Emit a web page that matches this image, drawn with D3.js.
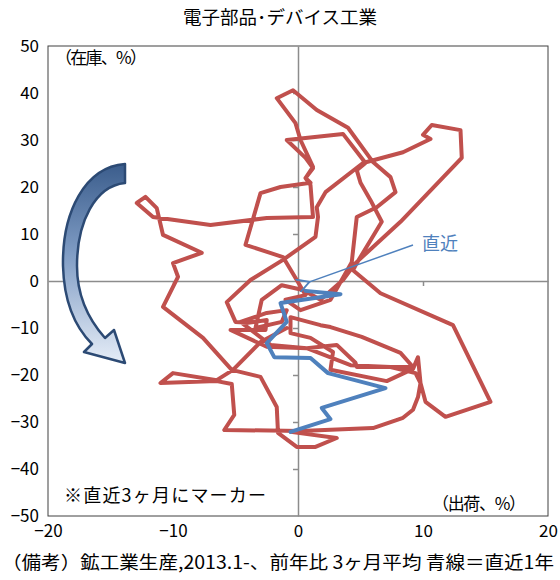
<!DOCTYPE html>
<html>
<head>
<meta charset="utf-8">
<script src="https://cdn.jsdelivr.net/npm/d3@7"></script>
<style>
  body { margin: 0; background: #fff; }
  text { font-family: "Noto Sans CJK JP", "Noto Sans", sans-serif; }
</style>
</head>
<body>
<div id="chart"></div>
<script>
// shipments (x) and inventory (y), YoY %, 3-month average, 2013.1 onward
const shipRed = [-0.9,-3.0,-5.2,-6.5,-10.0,-11.0,-6.5,-5.3,-5.1,-5.9,
  0.2,6.0,8.4,9.2,9.6,9.8,9.6,9.2,7.1,2.6,
  2.8,1.0,-0.6,-0.6,1.8,2.6,5.1,8.2,9.2,4.7,
  4.6,3.1,0.7,-2.2,-4.6,-2.5,-0.9,-1.3,-3.4,-2.9,
  -1.3,0.4,1.8,3.6,4.6,8.2,13.1,13.0,10.7,10.0,
  10.6,8.4,5.2,2.2,1.5,1.6,1.4,-1.2,-3.8,-5.7,
  -5.0,-4.0,-2.5,-2.6,-5.4,-2.5,0.7,4.2,7.4,9.4,
  9.8,10.2,11.8,15.4,12.4,6.6,4.4,4.7,6.7,5.8,
  5.0,4.7,5.4,3.6,-0.9,0.6,1.2,0.6,1.0,-1.4,
  -3.0,-4.2,-1.2,-0.1,0.6,-1.0,0.2,2.6,4.3,4.7,
  6.3,7.8,7.4,6.0,4.0,1.5,-0.4,-1.7,-0.2,0.2,
  1.2,0.6,1.0,1.2,-2.5,-7.0,-11.6,-12.9,-12.2,-11.3,
  -10.8,-7.7,-10.0,-9.6,-10.8,-7.6,-5.3,-3.0,-1.7,-1.6,
  -0.1,1.4,3.1,-0.6];
const invRed = [-10.0,-13.0,-18.9,-21.1,-19.6,-21.7,-21.3,-21.9,-28.5,-31.7,
  -31.9,-31.3,-29.1,-27.4,-24.7,-21.7,-16.2,-18.7,-21.3,-18.9,
  -15.1,-12.1,-11.1,-7.7,-9.4,-9.8,-11.9,-15.3,-18.3,-18.3,
  -17.4,-13.6,-14.3,-13.6,-8.7,-6.8,-6.2,-8.7,-10.0,-4.0,
  -0.9,-1.9,-4.0,0.2,3.8,12.6,26.2,32.1,33.2,31.1,
  30.2,27.4,25.1,18.9,15.7,13.6,9.4,4.5,0.2,-4.5,
  -8.7,-8.9,-8.3,-10.4,-10.4,-14.0,-14.3,-17.9,-18.3,-19.6,
  -21.7,-25.7,-28.9,-25.7,-9.4,-2.6,2.3,3.8,12.6,17.2,
  20.9,23.6,25.1,31.3,30.0,26.2,24.0,21.9,20.9,20.0,
  18.7,7.7,5.1,0.2,-3.0,-4.0,-6.2,-4.0,4.0,13.6,
  15.7,18.9,22.1,25.3,32.6,36.4,40.6,38.9,33.6,30.0,
  24.3,21.9,20.4,13.6,13.4,11.9,13.6,16.6,17.9,15.5,
  9.8,6.0,3.8,0.9,-5.5,-12.1,-18.9,-20.4,-26.8,-32.3,
  -35.3,-35.3,-33.4,-32.1];

// latest year (blue)
const shipBlue = [-0.6,2.6,1.9,7.0,2.4,1.0,-1.9,-2.5,-0.9,-1.4,3.4,0.6];
const invBlue  = [-32.1,-29.4,-27.0,-22.8,-19.6,-16.4,-16.2,-13.2,-8.7,-4.7,-2.8,-2.1];

const xTicks = [-20, -10, 0, 10, 20];
const yTicks = [50, 40, 30, 20, 10, 0, -10, -20, -30, -40, -50];

const W = 560, H = 580;
const plot = {left: 48, right: 548, top: 46, bottom: 516};

const svg = d3.select("#chart").append("svg")
    .attr("width", W).attr("height", H);

const x = d3.scaleLinear().domain([-20, 20]).range([plot.left, plot.right]);
const y = d3.scaleLinear().domain([-50, 50]).range([plot.bottom, plot.top]);

// title
svg.append("text")
    .attr("x", 183).attr("y", 24)
    .attr("font-size", 18)
    .attr("textLength", 194).attr("lengthAdjust", "spacingAndGlyphs")
    .text("電子部品･デバイス工業");

// plot frame
svg.append("rect")
    .attr("x", plot.left).attr("y", plot.top)
    .attr("width", plot.right - plot.left).attr("height", plot.bottom - plot.top)
    .attr("fill", "none").attr("stroke", "#404040").attr("stroke-width", 1);

// outer tick labels
const gy = svg.append("g")
    .attr("transform", "translate(" + plot.left + ",0)")
    .call(d3.axisLeft(y).tickValues(yTicks).tickSize(0).tickPadding(9));
gy.select(".domain").remove();
const gx = svg.append("g")
    .attr("transform", "translate(0," + plot.bottom + ")")
    .call(d3.axisBottom(x).tickValues(xTicks).tickSize(0).tickPadding(9));
gx.select(".domain").remove();
svg.selectAll(".tick text")
    .attr("font-size", 17).attr("fill", "#000")
    .style("font-family", "'Noto Sans CJK JP', sans-serif");

// zero axes through the middle
const zy = svg.append("g")
    .attr("transform", "translate(" + x(0) + ",0)")
    .call(d3.axisLeft(y).tickValues(yTicks.filter(d => d > -50 && d < 50 && d !== 0))
        .tickSizeInner(5).tickSizeOuter(0).tickFormat(""));
const zx = svg.append("g")
    .attr("transform", "translate(0," + y(0) + ")")
    .call(d3.axisBottom(x).tickValues([-10, 10])
        .tickSizeInner(5).tickSizeOuter(0).tickFormat(""));
[zy, zx].forEach(function(g) {
    g.selectAll("path, line").attr("stroke", "#8c8c8c").attr("stroke-width", 1.5);
});

// inner labels
svg.append("text").attr("x", 55).attr("y", 64).attr("font-size", 17)
    .attr("textLength", 92).text("（在庫、%）");
svg.append("text").attr("x", 432).attr("y", 510).attr("font-size", 17)
    .attr("textLength", 94).text("（出荷、%）");
svg.append("text").attr("x", 64).attr("y", 502).attr("font-size", 18)
    .attr("textLength", 202).text("※直近3ヶ月にマーカー");

// curved arrow (decoration)
const defs = svg.append("defs");
const grad = defs.append("linearGradient")
    .attr("id", "arrowFill").attr("x1", 0).attr("y1", 0).attr("x2", 0).attr("y2", 1);
grad.append("stop").attr("offset", "0%").attr("stop-color", "#3b5d8c");
grad.append("stop").attr("offset", "45%").attr("stop-color", "#7f9cc4");
grad.append("stop").attr("offset", "100%").attr("stop-color", "#e6edf7");
svg.append("path")
    .attr("d", "M125,164 C85,167 62,212 63,266 C64,302 76,328 92,344 L84,352 L125,363 L114,330 L105,338 C89,320 77,296 77,266 C77,222 95,186 125,183 Z")
    .attr("fill", "url(#arrowFill)")
    .attr("stroke", "#2c4a74").attr("stroke-width", 2.5)
    .attr("stroke-linejoin", "round");

// trajectories
const line = d3.line().x(d => x(d[0])).y(d => y(d[1]));
svg.append("path")
    .datum(d3.zip(shipRed, invRed))
    .attr("d", line)
    .attr("fill", "none").attr("stroke", "#c0504d")
    .attr("stroke-width", 4).attr("stroke-linejoin", "round").attr("stroke-linecap", "round");
svg.append("path")
    .datum(d3.zip(shipBlue, invBlue))
    .attr("d", line)
    .attr("fill", "none").attr("stroke", "#4f81bd")
    .attr("stroke-width", 4).attr("stroke-linejoin", "round").attr("stroke-linecap", "round");

// "直近" callout
defs.append("marker")
    .attr("id", "openHead").attr("viewBox", "0 0 10 10")
    .attr("refX", 1).attr("refY", 5)
    .attr("markerWidth", 14).attr("markerHeight", 14)
    .attr("markerUnits", "userSpaceOnUse")
    .attr("orient", "auto-start-reverse")
    .append("path").attr("d", "M10,0 L1,5 L10,10")
    .attr("fill", "none").attr("stroke", "#4f81bd").attr("stroke-width", 1.3);
const last = shipBlue.length - 1;
svg.append("line")
    .attr("x1", 413).attr("y1", 245)
    .attr("x2", x(shipBlue[last]) + 4).attr("y2", y(invBlue[last]) - 9)
    .attr("stroke", "#4f81bd").attr("stroke-width", 1.5)
    .attr("marker-end", "url(#openHead)");
svg.append("text").attr("x", 422).attr("y", 250)
    .attr("font-size", 18).attr("fill", "#4f81bd").text("直近");

// footnote
svg.append("text").attr("x", 2).attr("y", 569).attr("font-size", 18)
    .attr("textLength", 552).attr("lengthAdjust", "spacingAndGlyphs")
    .text("（備考）鉱工業生産,2013.1-、前年比 3ヶ月平均 青線＝直近1年");
</script>
</body>
</html>
